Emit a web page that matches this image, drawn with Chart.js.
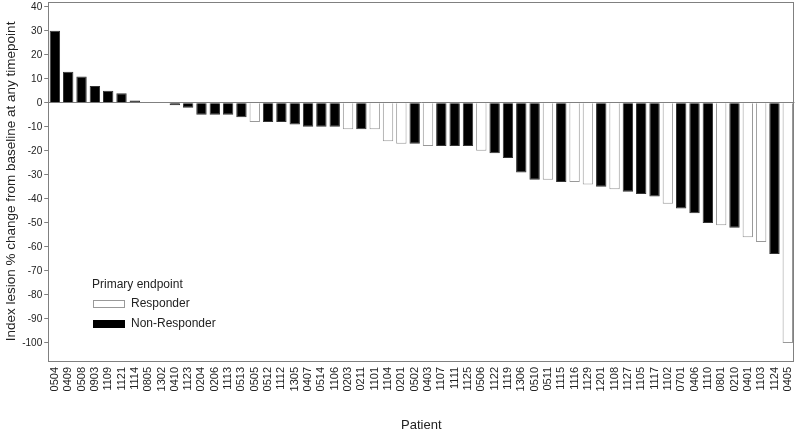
<!DOCTYPE html>
<html><head><meta charset="utf-8">
<script src="https://cdn.jsdelivr.net/npm/chart.js@4.4.1/dist/chart.umd.min.js"></script>
<style>html,body{margin:0;padding:0;background:#fff;overflow:hidden}#outer{width:797px;height:431px;overflow:hidden;position:relative}#wrap{position:absolute;left:0;top:-6px;width:807px;height:439px}</style>
</head><body><div id="outer"><div id="wrap"><canvas id="c"></canvas></div></div>
<script>
const patients = ["0504","0409","0508","0903","1109","1121","1114","0805","1302","0410","1123","0204","0206","1113","0513","0505","0512","1112","1305","0407","0514","1106","0203","0211","1101","1104","0201","0502","0403","1107","1111","1125","0506","1122","1119","1306","0510","0511","1115","1116","1129","1201","1108","1127","1105","1117","1102","0701","0406","1110","0801","0210","0401","1103","1124","0405"];
const changes = [30,13,11,7,5,4,1,0,0,-1,-2,-5,-5,-5,-6,-8,-8,-8,-9,-10,-10,-10,-11,-11,-11,-16,-17,-17,-18,-18,-18,-18,-20,-21,-23,-29,-32,-32,-33,-33,-34,-35,-36,-37,-38,-39,-42,-44,-46,-50,-51,-52,-56,-58,-63,-100];
const responder = [0,0,0,0,0,0,0,0,0,0,0,0,0,0,0,1,0,0,0,0,0,0,1,0,1,1,1,0,1,0,0,0,1,0,0,0,0,1,0,1,1,0,1,0,0,0,1,0,0,0,1,0,1,1,0,1];
const yTicks = [40,30,20,10,0,-10,-20,-30,-40,-50,-60,-70,-80,-90,-100];
const legendTitle = "Primary endpoint";
const legendItems = ["Responder","Non-Responder"];

const FONT = "'Liberation Sans', Arial, sans-serif";
const OFF = 6;
const frame = {
  id:'frame',
  afterDraw(chart){
    const {ctx, chartArea:a} = chart;
    ctx.save();
    ctx.strokeStyle='#808080'; ctx.lineWidth=1;
    ctx.strokeRect(Math.round(a.left)+0.5, Math.round(a.top)+0.5, Math.round(a.right-a.left)-1, Math.round(a.bottom-a.top));
    ctx.fillStyle='#222'; ctx.font="12px "+FONT; ctx.textBaseline='middle'; ctx.textAlign='left';
    ctx.fillText(legendTitle, 92, 285+OFF);
    legendItems.forEach((t,i)=>{
      const y = 304 + OFF + i*20;
      ctx.fillStyle = i===0 ? '#fff' : '#000';
      ctx.strokeStyle = i===0 ? '#999' : '#000';
      ctx.fillRect(93, y-4, 32, 8);
      ctx.strokeRect(93.5, y-3.5, 31, 7);
      ctx.fillStyle='#222';
      ctx.fillText(t, 131, y);
    });
    ctx.restore();
  }
};

new Chart(document.getElementById('c'), {
  type:'bar',
  data:{
    labels: patients,
    datasets:[{
      label:'Index lesion % change',
      data: changes,
      backgroundColor: changes.map((v,i)=>responder[i]?'#ffffff':'#000000'),
      borderColor: changes.map((v,i)=>responder[i]?'#999999':'#333333'),
      borderWidth: 1,
      barPercentage: 0.78,
      categoryPercentage: 1.0
    }]
  },
  options:{
    responsive:true, maintainAspectRatio:false, animation:false,
    layout:{padding:{left:3,right:0,top:0,bottom:0}},
    plugins:{legend:{display:false}, tooltip:{enabled:false}},
    scales:{
      x:{
        grid:{display:false, drawTicks:false},
        border:{display:false},
        ticks:{autoSkip:false, maxRotation:90, minRotation:90, color:'#222', font:{family:FONT,size:11}, padding:6},
        title:{display:true, text:'Patient', color:'#222', font:{family:FONT,size:13}, padding:{top:20,bottom:0}}
      },
      y:{
        min:-107.5, max:42,
        afterBuildTicks(s){ s.ticks = yTicks.map(v=>({value:v})); },
        grid:{drawOnChartArea:true, color:(c)=>c.tick && c.tick.value===0 ? '#808080' : 'rgba(0,0,0,0)', tickColor:'#808080', tickLength:4},
        border:{display:false},
        ticks:{color:'#222', font:{family:FONT,size:10}, padding:2},
        title:{display:true, text:'Index lesion % change from baseline at any timepoint', color:'#222', font:{family:FONT,size:13.5}, padding:{top:0,bottom:1}}
      }
    }
  },
  plugins:[frame]
});
</script></body></html>
